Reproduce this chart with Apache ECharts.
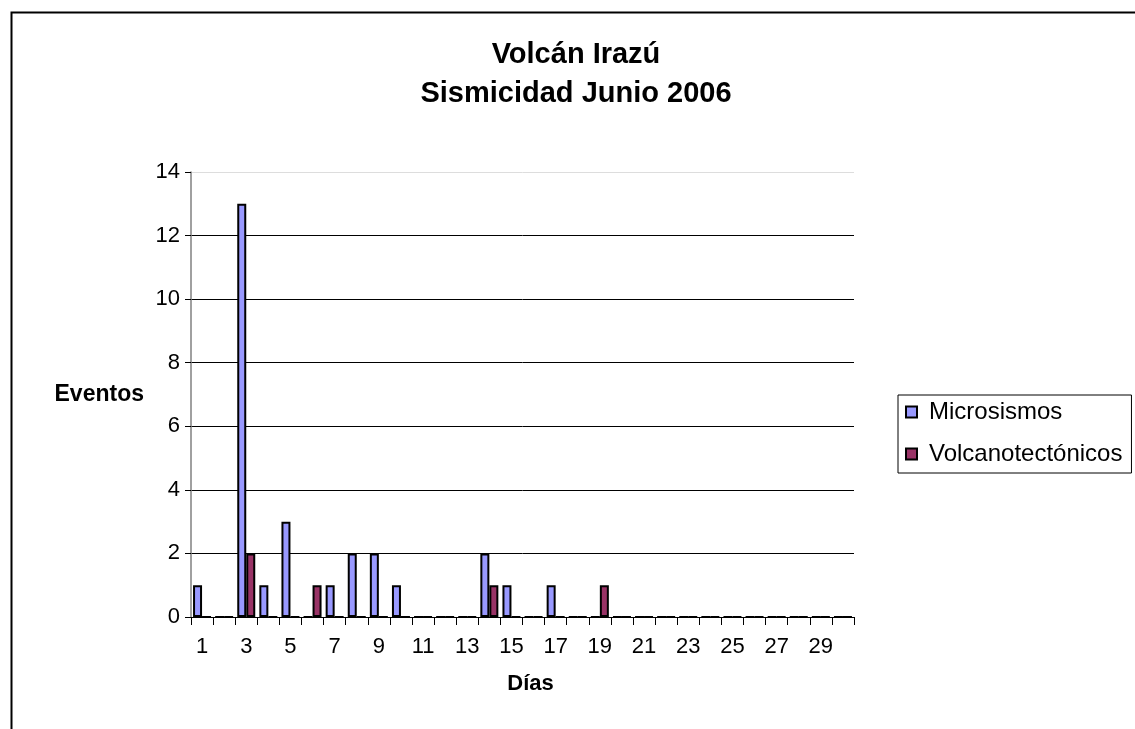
<!DOCTYPE html>
<html>
<head>
<meta charset="utf-8">
<script src="https://cdn.jsdelivr.net/npm/echarts@6/dist/echarts.min.js"></script>
<style>
html,body{margin:0;padding:0;background:#fff;}
#c{width:1135px;height:729px;}
</style>
</head>
<body>
<div id="c"></div>
<script>
const days = Array.from({length:30}, (_, i) => String(i + 1));
const microsismos = [1,0,13,1,3,0,1,2,2,1,0,0,0,2,1,0,1,0,0,0,0,0,0,0,0,0,0,0,0,0];
const volcanotectonicos = [0,0,2,0,0,1,0,0,0,0,0,0,0,1,0,0,0,0,1,0,0,0,0,0,0,0,0,0,0,0];
const yTicks = [0,2,4,6,8,10,12,14];

const chart = echarts.init(document.getElementById('c'));
const F = '"Liberation Sans", Arial, sans-serif';
chart.setOption({
  animation:false,
  backgroundColor:'#fff',
  title:{
    text:'Volcán Irazú\nSismicidad Junio 2006',
    left:576, top:35, textAlign:'center', padding:0,
    textStyle:{fontFamily:F,fontSize:29,fontWeight:'bold',color:'#000',lineHeight:39}
  },
  graphic:[{type:'rect',left:9,top:10,shape:{width:1200,height:800},style:{fill:'none',stroke:'#000',lineWidth:2},silent:true}],
  legend:{
    orient:'vertical', left:898, top:395,
    itemWidth:11, itemHeight:11, itemGap:18,
    icon:'rect',
    padding:[5,9,7,7],
    borderColor:'#000', borderWidth:1,
    textStyle:{fontFamily:F,fontSize:24,color:'#000',padding:[0,0,0,7]},
    data:['Microsismos','Volcanotectónicos']
  },
  grid:{left:191,right:281,top:172,bottom:112},
  xAxis:{
    type:'category', data:days,
    name:'Días', nameLocation:'middle', nameGap:56,
    nameTextStyle:{fontFamily:F,fontSize:22,fontWeight:'bold',color:'#000',padding:[0,0,0,16]},
    axisLine:{lineStyle:{color:'#000',width:1}},
    axisTick:{show:true,interval:0,length:8,lineStyle:{color:'#000'}},
    axisLabel:{interval:1,fontFamily:F,fontSize:22,color:'#000',margin:19}
  },
  yAxis:{
    type:'value', min:0, max:14, interval:2,
    name:'Eventos', nameLocation:'middle', nameGap:47, nameRotate:0,
    nameTextStyle:{fontFamily:F,fontSize:23,fontWeight:'bold',color:'#000'},
    axisLine:{show:true,lineStyle:{color:'#808080',width:1.5}},
    axisTick:{show:true,length:6,lineStyle:{color:'#000'}},
    axisLabel:{fontFamily:F,fontSize:22,color:'#000',margin:11,
      formatter:v=>yTicks.includes(v)?String(v):''},
    splitLine:{show:true,lineStyle:{color:['#000','#000','#000','#000','#000','#000','#000','#ddd'],width:1}}
  },
  series:[
    {name:'Microsismos',type:'bar',data:microsismos,barWidth:9,barGap:'0%',
     itemStyle:{color:'#9999FF',borderColor:'#000',borderWidth:2}},
    {name:'Volcanotectónicos',type:'bar',data:volcanotectonicos,barWidth:9,
     itemStyle:{color:'#993366',borderColor:'#000',borderWidth:2}}
  ]
});
</script>
</body>
</html>
